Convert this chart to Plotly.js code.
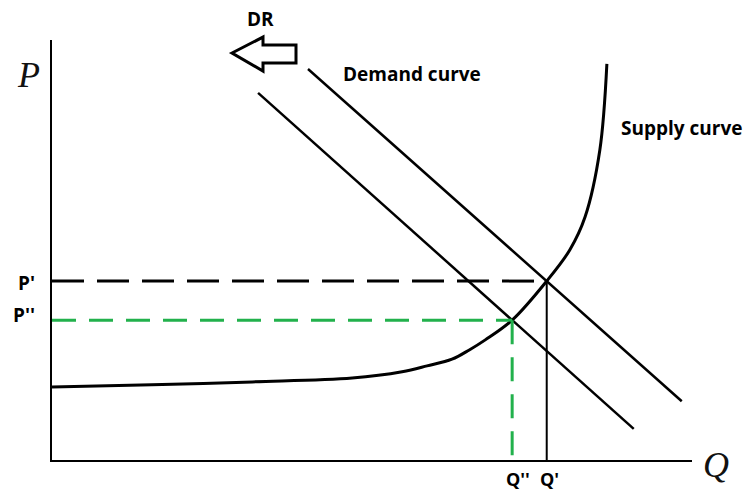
<!DOCTYPE html>
<html>
<head>
<meta charset="utf-8">
<script src="https://cdn.plot.ly/plotly-3.0.1.min.js"></script>
<style>html,body{margin:0;padding:0;background:#fff;}#chart{width:748px;height:493px;}</style>
</head>
<body>
<div id="chart"></div>
<script>
// Supply curve (quantity, price)
const supplyQ = [0, 1.56, 3.13, 4.69, 5.47, 5.86, 6.25, 6.52, 6.77, 7.19, 7.73, 8.09, 8.33, 8.56, 8.67];
const supplyP = [1.74, 1.79, 1.86, 1.95, 2.10, 2.24, 2.40, 2.62, 2.86, 3.33, 4.26, 5.00, 5.79, 7.38, 9.43];
// Original demand curve
const demandQ = [4.0, 9.84];
const demandP = [9.31, 1.40];
// Demand after demand reduction (DR)
const demand2Q = [3.22, 9.09];
const demand2P = [8.74, 0.74];
// Equilibria
const Pprime = 4.26, Qprime = 7.73;
const Pdd = 3.33, Qdd = 7.19;
const labels = {P1: "P'", P2: "P''", Q1: "Q'", Q2: "Q''"};

const green = '#22b14c';
const bold = {family: '"Open Sans", sans-serif', size: 19, color: '#000', weight: 'bold'};
const boldSm = {family: '"Open Sans", sans-serif', size: 18, color: '#000', weight: 'bold'};
const serifIt = {family: '"Liberation Serif", "DejaVu Serif", serif', size: 36, color: '#111', style: 'italic'};

const traces = [
  {x: supplyQ, y: supplyP, mode: 'lines', line: {color: '#000', width: 3, shape: 'spline', smoothing: 1}},
  {x: demandQ, y: demandP, mode: 'lines', line: {color: '#000', width: 2.5}},
  {x: demand2Q, y: demand2P, mode: 'lines', line: {color: '#000', width: 2.5}},
  {x: [0, Qprime], y: [Pprime, Pprime], mode: 'lines', line: {color: '#000', width: 3, dash: '32px,13px'}},
  {x: [Qprime, Qprime], y: [0, Pprime], mode: 'lines', line: {color: '#000', width: 2}},
  {x: [0, Qdd], y: [Pdd, Pdd], mode: 'lines', line: {color: green, width: 3, dash: '24px,13px'}},
  {x: [Qdd, Qdd], y: [Pdd, 0], mode: 'lines', line: {color: green, width: 3, dash: '24px,13px'}}
];

const A = {showarrow: false, xanchor: 'center', yanchor: 'middle'};
const layout = {
  width: 748, height: 493,
  margin: {l: 52, r: 56, t: 40, b: 33},
  paper_bgcolor: '#fff', plot_bgcolor: '#fff',
  showlegend: false,
  xaxis: {range: [0, 10], showline: true, linewidth: 2, linecolor: '#000', showgrid: false, zeroline: false, showticklabels: false, ticks: ''},
  yaxis: {range: [0, 10], showline: true, linewidth: 2.5, linecolor: '#000', showgrid: false, zeroline: false, showticklabels: false, ticks: ''},
  annotations: [
    Object.assign({}, A, {xref: 'paper', yref: 'paper', x: -0.0375, y: 0.917, text: 'P', font: serifIt}),
    Object.assign({}, A, {xref: 'paper', yref: 'paper', x: 1.0375, y: -0.012, text: 'Q', font: serifIt}),
    Object.assign({}, A, {xref: 'paper', yref: 'y', x: -0.0234, y: Pprime, yshift: -2, xanchor: 'right', text: labels.P1, font: bold}),
    Object.assign({}, A, {xref: 'paper', yref: 'y', x: -0.0234, y: Pdd, yshift: 5, xanchor: 'right', text: labels.P2, font: bold}),
    Object.assign({}, A, {xref: 'x', yref: 'paper', x: Qdd, xshift: 6, y: -0.046, text: labels.Q2, font: boldSm}),
    Object.assign({}, A, {xref: 'x', yref: 'paper', x: Qprime, xshift: 3, y: -0.046, text: labels.Q1, font: boldSm}),
    Object.assign({}, A, {xref: 'x', yref: 'y', x: 4.52, y: 9.19, xanchor: 'left', text: 'Demand curve', font: bold}),
    Object.assign({}, A, {xref: 'x', yref: 'y', x: 8.86, y: 7.90, xanchor: 'left', text: 'Supply curve', font: bold}),
    Object.assign({}, A, {xref: 'paper', yref: 'paper', x: 0.325, y: 1.05, text: 'DR', font: bold})
  ],
  shapes: [
    {type: 'path', xref: 'paper', yref: 'paper',
     path: 'M0.28125,0.969 L0.3297,1.007 L0.3297,0.988 L0.38125,0.988 L0.38125,0.945 L0.3297,0.945 L0.3297,0.926 Z',
     line: {color: '#000', width: 3}, fillcolor: 'rgba(0,0,0,0)'}
  ]
};

Plotly.newPlot('chart', traces, layout, {staticPlot: true, displayModeBar: false});
</script>
</body>
</html>
